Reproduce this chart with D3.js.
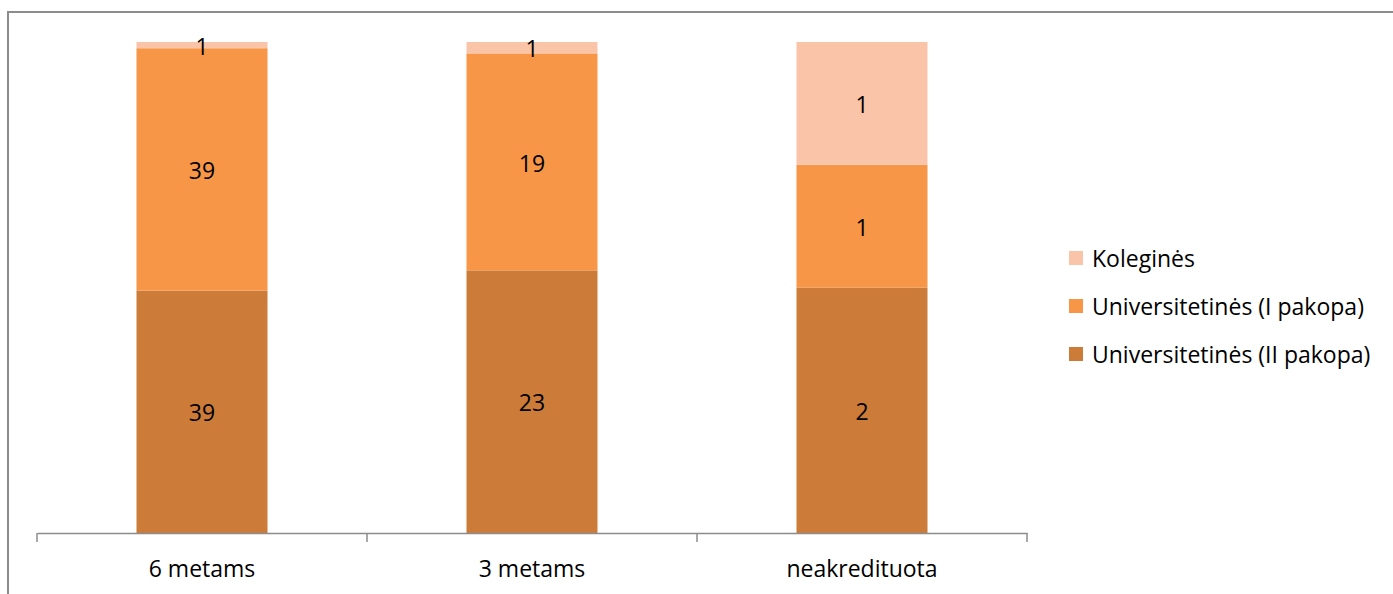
<!DOCTYPE html>
<html><head><meta charset="utf-8">
<script src="https://cdn.jsdelivr.net/npm/d3@7"></script>
<style>body{margin:0;background:#fff;}svg{display:block;}</style>
</head><body>
<svg id="c" width="1393" height="594"></svg>
<script>
const categories = ["6 metams", "3 metams", "neakredituota"];
const seriesNames = ["Universitetinės (II pakopa)", "Universitetinės (I pakopa)", "Koleginės"];
const seriesII = [39, 23, 2];
const seriesI = [39, 19, 1];
const seriesKol = [1, 1, 1];
const colors = ["#CD7B39", "#F79646", "#FAC4A9"];

const svg = d3.select("#c");
const font = "'Open Sans', sans-serif";
const fs = 23;

// frame
svg.append("rect").attr("x", 8).attr("y", 12).attr("width", 1400).attr("height", 600)
  .attr("fill", "none").attr("stroke", "#8c8c8c").attr("stroke-width", 2);

const mLeft = 37, mRight = 1027, mTop = 42, mBottom = 533;
const x = d3.scaleBand().domain(categories).range([mLeft, mRight]).paddingInner(0).paddingOuter(0);
const y = d3.scaleLinear().domain([0, 1]).range([mBottom, mTop]);
const barW = 131;

const rows = categories.map((c, i) => ({cat: c, v: [seriesII[i], seriesI[i], seriesKol[i]]}));
const stackData = rows.map(r => {
  const tot = d3.sum(r.v);
  let acc = 0;
  return r.v.map((v, k) => { const y0 = acc / tot; acc += v; return {cat: r.cat, k, v, y0, y1: acc / tot}; });
}).flat();

svg.append("g").selectAll("rect").data(stackData).join("rect")
  .attr("x", d => x(d.cat) + x.bandwidth() / 2 - barW / 2)
  .attr("width", barW)
  .attr("y", d => y(d.y1))
  .attr("height", d => y(d.y0) - y(d.y1))
  .attr("fill", d => colors[d.k]);

svg.append("g").selectAll("text").data(stackData).join("text")
  .attr("x", d => x(d.cat) + x.bandwidth() / 2)
  .attr("y", d => (y(d.y0) + y(d.y1)) / 2)
  .attr("dy", "0.42em")
  .attr("text-anchor", "middle")
  .attr("font-family", font).attr("font-size", fs).attr("fill", "#000")
  .text(d => d.v);

// axis
const ag = svg.append("g").attr("transform", `translate(0,${mBottom})`)
  .call(d3.axisBottom(x).tickSize(0).tickPadding(28).tickSizeOuter(0));
ag.select(".domain").attr("stroke", "#8c8c8c").attr("stroke-width", 1.5);
ag.selectAll(".tick text").attr("font-family", font).attr("font-size", fs).attr("fill", "#000");
const tickPos = categories.map(c => x(c)).concat([mRight]);
ag.selectAll("line.t").data(tickPos).join("line").attr("class", "t")
  .attr("x1", d => d).attr("x2", d => d).attr("y1", 0).attr("y2", 9)
  .attr("stroke", "#8c8c8c").attr("stroke-width", 1.5);

// legend
const legendItems = [2, 1, 0];
const lg = svg.append("g");
legendItems.forEach((k, i) => {
  const cy = 258 + i * 48;
  lg.append("rect").attr("x", 1069).attr("y", cy - 7).attr("width", 14).attr("height", 14).attr("fill", colors[k]);
  lg.append("text").attr("x", 1092).attr("y", cy).attr("dy", "0.4em")
    .attr("font-family", font).attr("font-size", fs).attr("fill", "#000").text(seriesNames[k]);
});
</script>
</body></html>
